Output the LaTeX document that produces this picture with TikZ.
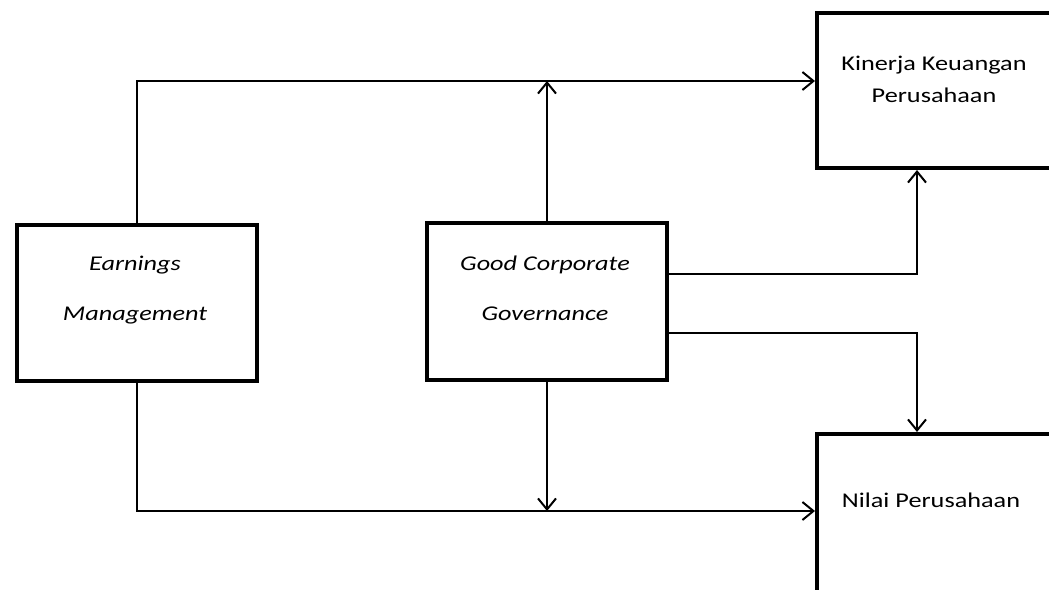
\documentclass[tikz,border=0pt]{standalone}
\usepackage{fontspec}
\setmainfont{Carlito}[FakeStretch=1.25]
\usetikzlibrary{arrows.meta}

\begin{document}
\begin{tikzpicture}[x=1pt,y=-1pt,
  box/.style={draw,line width=4pt,minimum width=240pt,minimum height=156pt,inner sep=0pt,anchor=north west},
  link/.style={line width=2pt,-{Straight Barb[length=11pt,width=18pt]}},
  lbl/.style={align=center,inner sep=0pt,font=\fontsize{21}{32}\selectfont}]
\useasboundingbox (0,0) rectangle (1049,589);
\clip (0,0) rectangle (1049,589);

% boxes
\node[box] (em) at (15,223) {};
\node[box,minimum height=157pt] (gcg) at (425,221) {};
\node[box,minimum height=155pt] (kk) at (815,11) {};
\node[box,minimum height=200pt] (np) at (815,432) {};

% texts
\node[lbl,font=\fontsize{21}{50}\selectfont\itshape] (emtxt) at (135,290) {Earnings\\Management};
\node[lbl,font=\fontsize{21}{50}\selectfont\itshape] (gcgtxt) at (545,288) {Good Corporate\\Governance};
\node[lbl] (kktxt) at (934,79) {Kinerja Keuangan\\Perusahaan};
\node[lbl] (nptxt) at (931,500) {Nilai Perusahaan};

\coordinate (top) at ([yshift=9.5pt]kk.west);
\coordinate (bot) at ([yshift=23pt]np.west);

% links
\draw[link] (em.north) |- (top);
\draw[link] (gcg.north) -- (gcg.north |- top);
\draw[link] (em.south) |- (bot);
\draw[link] (gcg.south) -- (gcg.south |- bot);
\draw[link] ([yshift=27.5pt]gcg.east) -| ([xshift=-20pt]kk.south);
\draw[link] ([yshift=-31.5pt]gcg.east) -| ([xshift=-20pt]np.north);
\end{tikzpicture}
\end{document}
